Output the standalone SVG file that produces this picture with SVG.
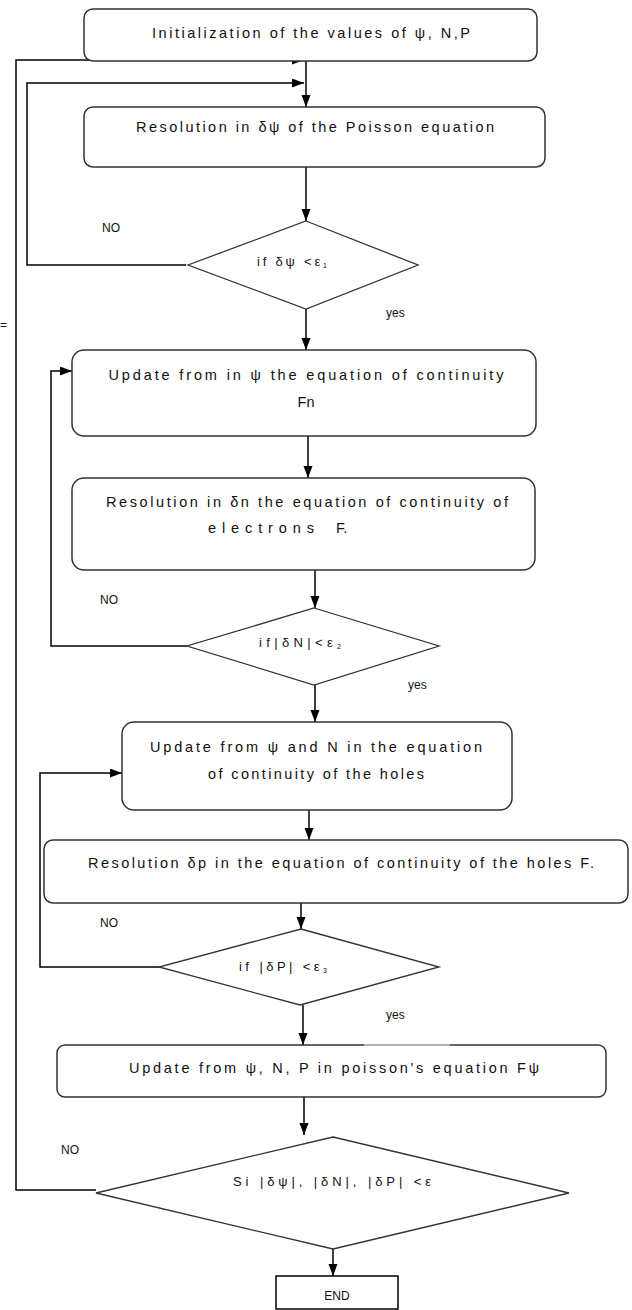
<svg xmlns="http://www.w3.org/2000/svg" width="632" height="1310" viewBox="0 0 632 1310">
<style>
.box{fill:#fff;stroke:#333;stroke-width:1.5}
.dia{fill:#fff;stroke:#333;stroke-width:1.3}
.con{fill:none;stroke:#000;stroke-width:1.5}
.t{font-family:"Liberation Sans",Arial,sans-serif;font-size:12px;fill:#111}
.t.b{font-size:14.5px}
.t.d{font-size:13px}
.m{text-anchor:middle}
.sub{font-size:7px}
</style>
<defs>
<marker id="ah" markerUnits="userSpaceOnUse" markerWidth="12" markerHeight="10" refX="12" refY="4.5" orient="auto">
<path d="M0,0 L12,4.5 L0,9 z" fill="#000"/>
</marker>
</defs>
<rect width="632" height="1310" fill="#fff"/>
<text class="t" x="0" y="329">=</text>

<g id="connectors">
<line class="con" x1="306" y1="61" x2="306" y2="107" marker-end="url(#ah)"/>
<polyline class="con" points="96,1190 16,1190 16,60 304,60" marker-end="url(#ah)"/>
<polyline class="con" points="186,265 27,265 27,83 304,83" marker-end="url(#ah)"/>
<line class="con" x1="306" y1="167" x2="306" y2="221" marker-end="url(#ah)"/>
<line class="con" x1="306" y1="309" x2="306" y2="350" marker-end="url(#ah)"/>
<line class="con" x1="308" y1="427" x2="308" y2="478" marker-end="url(#ah)"/>
<line class="con" x1="315" y1="570" x2="315" y2="608" marker-end="url(#ah)"/>
<polyline class="con" points="187,646 51,646 51,371 72,371" marker-end="url(#ah)"/>
<line class="con" x1="315" y1="685" x2="315" y2="722" marker-end="url(#ah)"/>
<line class="con" x1="309" y1="810" x2="309" y2="840" marker-end="url(#ah)"/>
<line class="con" x1="301" y1="892" x2="301" y2="929" marker-end="url(#ah)"/>
<polyline class="con" points="159,967 40,967 40,773 122,773" marker-end="url(#ah)"/>
<line class="con" x1="303" y1="1005" x2="303" y2="1045" marker-end="url(#ah)"/>
<line class="con" x1="304" y1="1097" x2="304" y2="1135" marker-end="url(#ah)"/>
<line class="con" x1="333" y1="1249" x2="333" y2="1276" marker-end="url(#ah)"/>
</g>

<g id="n1">
<rect class="box" x="84" y="9" width="453" height="52" rx="9"/>
<text class="t b m" x="311" y="38" textLength="318" lengthAdjust="spacing">Initialization of the values of ψ, N,P</text>
</g>
<g id="n2">
<rect class="box" x="84" y="107" width="461" height="60" rx="9"/>
<text class="t b m" x="315" y="132" textLength="358" lengthAdjust="spacing">Resolution in δψ of the Poisson equation</text>
</g>
<g id="d1">
<polygon class="dia" points="306,221 418,265 306,309 188,265"/>
<text class="t d" x="257" y="266" textLength="70" lengthAdjust="spacing">if δψ &lt;ε<tspan class="sub" dy="2">1</tspan></text>
<text class="t" x="102" y="232">NO</text>
<text class="t" x="386" y="317">yes</text>
</g>
<g id="n3">
<rect class="box" x="72" y="350" width="464" height="86" rx="12"/>
<text class="t b m" x="306" y="380" textLength="395" lengthAdjust="spacing">Update from in ψ the equation of continuity</text>
<text class="t b m" x="306" y="407">Fn</text>
</g>
<g id="n4">
<rect class="box" x="72" y="478" width="463" height="92" rx="12"/>
<text class="t b m" x="307" y="507" textLength="402" lengthAdjust="spacing">Resolution in δn the equation of continuity of</text>
<text class="t b" y="533"><tspan x="208" textLength="106" lengthAdjust="spacing">electrons</tspan><tspan x="336">F.</tspan></text>
</g>
<g id="d2">
<polygon class="dia" points="314,608 439,646 314,685 187,646"/>
<text class="t d" x="259" y="647" textLength="82" lengthAdjust="spacing">if|δN|&lt;ε<tspan class="sub" dy="2">2</tspan></text>
<text class="t" x="100" y="604">NO</text>
<text class="t" x="408" y="689">yes</text>
</g>
<g id="n5">
<rect class="box" x="122" y="722" width="390" height="88" rx="12"/>
<text class="t b m" x="316" y="752" textLength="332" lengthAdjust="spacing">Update from ψ and N in the equation</text>
<text class="t b m" x="316" y="779" textLength="216" lengthAdjust="spacing">of continuity of the holes</text>
</g>
<g id="n6">
<rect class="box" x="44" y="840" width="584" height="63" rx="9"/>
<text class="t b m" x="341" y="868" textLength="506" lengthAdjust="spacing">Resolution δp in the equation of continuity of the holes F.</text>
</g>
<g id="d3">
<polygon class="dia" points="301,929 439,967 300,1005 159,967"/>
<text class="t d" x="239" y="971" textLength="88" lengthAdjust="spacing">if |δP| &lt;ε<tspan class="sub" dy="2">3</tspan></text>
<text class="t" x="100" y="927">NO</text>
<text class="t" x="386" y="1019">yes</text>
</g>
<g id="n7">
<rect class="box" x="57" y="1045" width="549" height="52" rx="8"/>
<line x1="364" y1="1045" x2="450" y2="1045" stroke="#fff" stroke-width="1"/>
<text class="t b m" x="334" y="1073" textLength="410" lengthAdjust="spacing">Update from ψ, N, P in poisson's equation Fψ</text>
</g>
<g id="d4">
<polygon class="dia" points="333,1137 569,1193 333,1249 96,1193"/>
<text class="t d m" x="332" y="1186" textLength="198" lengthAdjust="spacing">Si |δψ|, |δN|, |δP| &lt;ε</text>
<text class="t" x="61" y="1154">NO</text>
</g>
<g id="end">
<rect x="276" y="1276" width="122" height="33" fill="#fff" stroke="#000" stroke-width="1.5"/>
<text class="t m" x="337" y="1300">END</text>
</g>
</svg>
